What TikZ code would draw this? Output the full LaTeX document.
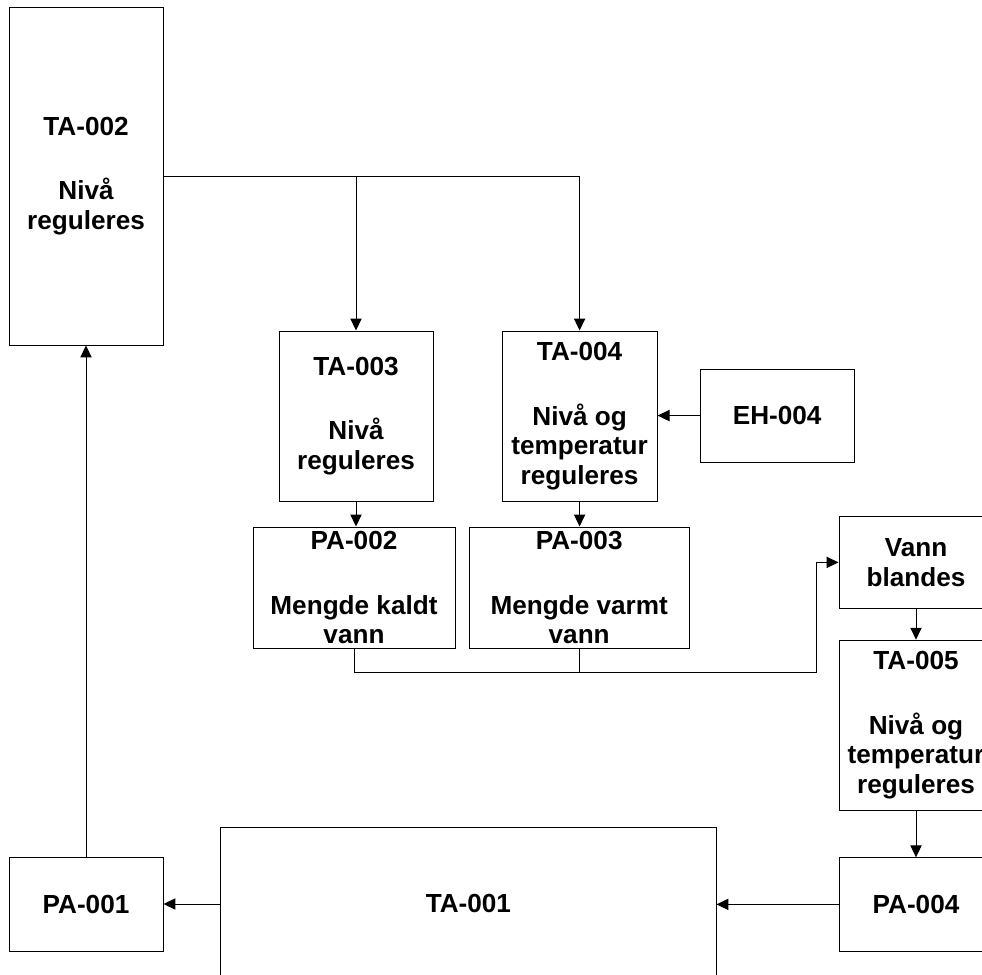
\documentclass[tikz,border=0pt]{standalone}
\usepackage{fontspec}
\setmainfont{Liberation Sans}
\usepackage{tikz}
\usetikzlibrary{positioning,calc,arrows.meta}

\tikzset{
    blokk/.style={draw, line width=0.7pt, inner sep=0pt, align=center,
        font=\bfseries\fontsize{18.6}{21}\selectfont},
    pil/.style={line width=0.7pt, -{Triangle[length=8.5pt,width=8pt]}},
    linje/.style={line width=0.7pt}
}

\begin{document}
\begin{tikzpicture}
        \useasboundingbox (0,0) rectangle (24.55,-24.375);
        \clip (0,0) rectangle (24.55,-24.375);
        \node[blokk, minimum width=3.85cm, minimum height=8.45cm] (ta2) at (2.15,-4.4) {TA-002\\[25pt]Nivå\\reguleres};
        \node[blokk, minimum width=3.85cm, minimum height=4.25cm] (ta3) at (8.9,-10.4) {TA-003\\[25pt]Nivå\\reguleres};
        \node[blokk, minimum width=3.875cm, minimum height=4.25cm] (ta4) at (14.49,-10.4) {TA-004\\[25pt]Nivå og\\temperatur\\reguleres};
        \node[blokk, minimum width=3.85cm, minimum height=2.33cm] (eh4) at (19.43,-10.39) {EH-004};
        \node[blokk, minimum width=5.05cm, minimum height=3.03cm] (pa2) at (8.85,-14.69) {PA-002\\[25pt]Mengde kaldt\\vann};
        \node[blokk, minimum width=5.5cm, minimum height=3.03cm] (pa3) at (14.48,-14.69) {PA-003\\[25pt]Mengde varmt\\vann};
        \node[blokk, minimum width=3.85cm, minimum height=2.28cm] (vann) at (22.9,-14.06) {Vann\\blandes};
        \node[blokk, minimum width=3.85cm, minimum height=4.25cm] (ta5) at (22.9,-18.13) {TA-005\\[25pt]Nivå og\\temperatur\\reguleres};
        \node[blokk, minimum width=3.85cm, minimum height=2.33cm] (pa4) at (22.9,-22.61) {PA-004};
        \node[blokk, minimum width=12.38cm, minimum height=3.85cm] (ta1) at (11.71,-22.6) {TA-001};
        \node[blokk, minimum width=3.85cm, minimum height=2.33cm] (pa1) at (2.15,-22.61) {PA-001};
        \coordinate (knekk) at (20.4,-16.8);

        \draw[pil] (ta2.east) -| (ta3.north);
        \draw[pil] (ta2.east) -| (ta4.north);
        \draw[pil] (eh4.west) -- (eh4.west -| ta4.east);
        \draw[pil] (ta3.south) -- (ta3.south |- pa2.north);
        \draw[pil] (ta4.south) -- (ta4.south |- pa3.north);
        \draw[linje] (pa2.south) |- (knekk -| pa3.south) -- (pa3.south);
        \draw[pil] (pa3.south) |- (knekk) |- (vann.west);
        \draw[pil] (vann.south) -- (ta5.north);
        \draw[pil] (ta5.south) -- (pa4.north);
        \draw[pil] (pa4.west) -- (pa4.west -| ta1.east);
        \draw[pil] (ta1.west) -- (ta1.west -| pa1.east);
        \draw[pil] (pa1.north) -- (ta2.south);
    \end{tikzpicture}
\end{document}
